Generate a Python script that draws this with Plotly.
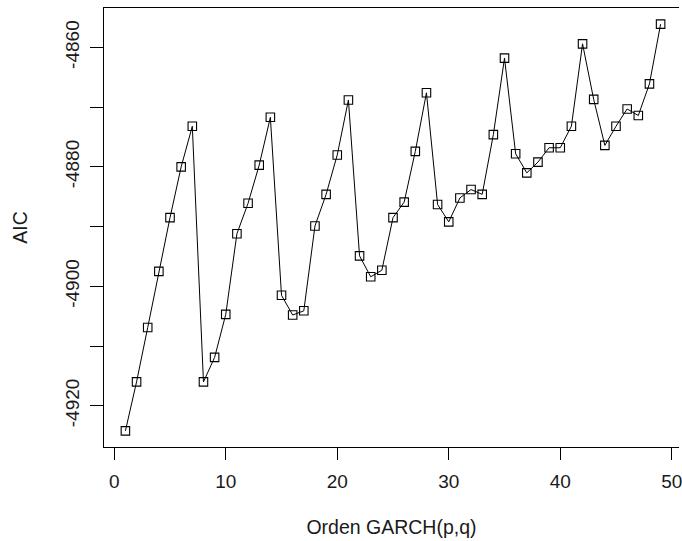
import plotly.graph_objects as go

orden = list(range(1, 50))
aic = [
    -4924.2, -4916.0, -4906.9, -4897.5, -4888.5, -4880.0, -4873.2,
    -4916.0, -4911.9, -4904.7, -4891.2, -4886.1, -4879.7, -4871.7,
    -4901.5, -4904.8, -4904.1, -4889.9, -4884.6, -4878.0, -4868.8,
    -4894.9, -4898.4, -4897.3, -4888.5, -4885.9, -4877.4, -4867.6,
    -4886.3, -4889.2, -4885.2, -4883.8, -4884.6, -4874.6, -4861.8,
    -4877.8, -4881.0, -4879.2, -4876.8, -4876.8, -4873.2, -4859.4,
    -4868.7, -4876.4, -4873.2, -4870.3, -4871.4, -4866.1, -4856.1,
]
x_ticks = [0, 10, 20, 30, 40, 50]
y_ticks = [-4920, -4900, -4880, -4860]
y_tick_labels = ["-4920", "-4900", "-4880", "-4860"]

fig = go.Figure()
fig.add_trace(go.Scatter(
    x=orden, y=aic, mode="lines+markers",
    line=dict(color="black", width=1),
    marker=dict(symbol="square-open", size=8.5, color="black", line=dict(width=1.1, color="black")),
    hoverinfo="x+y",
))

fig.update_layout(
    width=682, height=541,
    margin=dict(l=104, r=0, t=8, b=94),
    paper_bgcolor="white", plot_bgcolor="white",
    showlegend=False,
    font=dict(family="Liberation Sans, Arial, sans-serif", size=19, color="#1a1a1a"),
)
fig.update_xaxes(
    range=[-0.92, 50.65], tickmode="array", tickvals=x_ticks,
    ticks="outside", ticklen=12, tickwidth=1, tickcolor="black",
    showline=True, linecolor="black", linewidth=1, mirror=True,
    showgrid=False, zeroline=False, ticklabelstandoff=5,
    ticklabeloverflow="allow",
    title=dict(text="Orden GARCH(p,q)", standoff=29, font=dict(size=19.5)),
)
fig.update_yaxes(
    range=[-4926.9, -4853.4], tickmode="array", tickvals=y_ticks,
    ticktext=y_tick_labels, tickangle=-90,
    ticks="outside", ticklen=13, tickwidth=1, tickcolor="black",
    minor=dict(tickmode="linear", tick0=-4920, dtick=10, ticks="outside", ticklen=13, tickwidth=1, tickcolor="black", showgrid=False),
    showline=True, linecolor="black", linewidth=1, mirror=False,
    showgrid=False, zeroline=False, ticklabelstandoff=3,
    title=dict(text="AIC", standoff=29, font=dict(size=19.5)),
)

fig.write_html("out.html", config={"displayModeBar": False},
               post_script="document.body.style.margin='0px';")
